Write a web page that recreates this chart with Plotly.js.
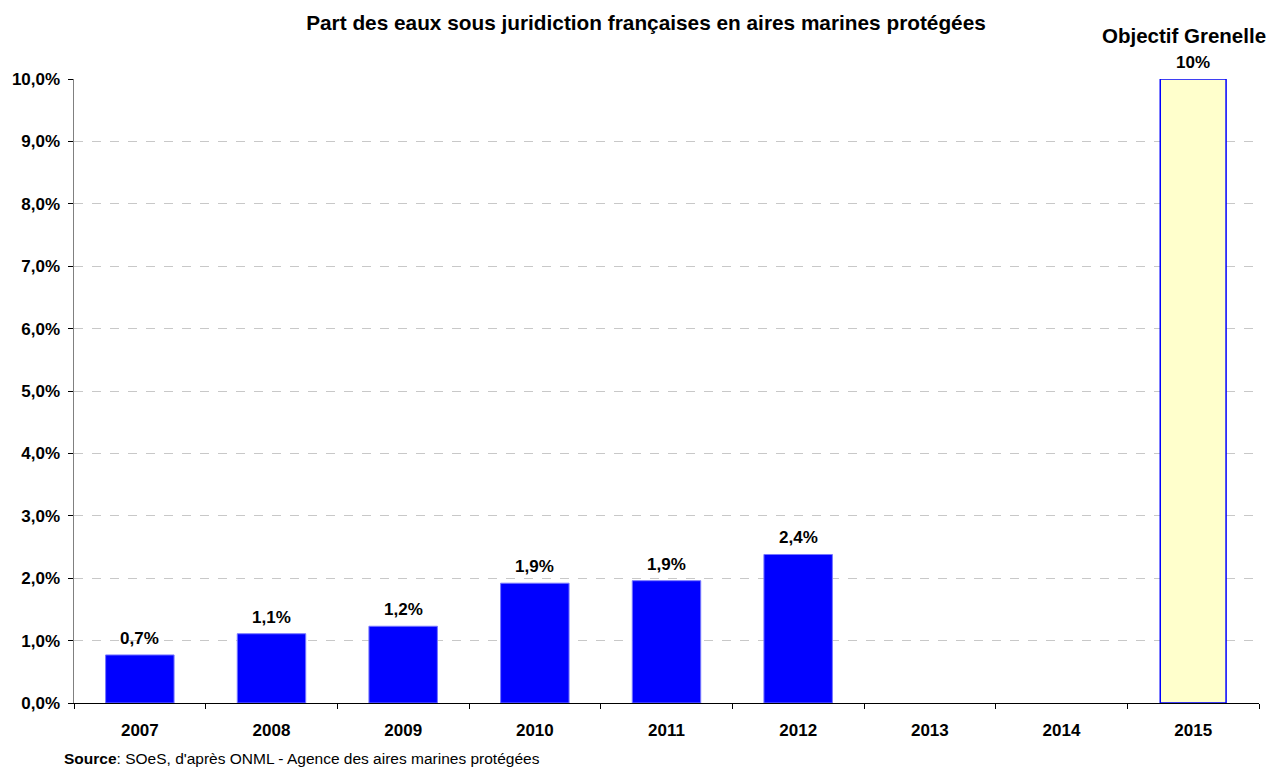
<!DOCTYPE html>
<html><head><meta charset="utf-8">
<script src="https://cdn.plot.ly/plotly-3.0.1.min.js"></script>
<style>html,body{margin:0;padding:0;background:#fff}#chart{width:1272px;height:767px}</style>
</head><body><div id="chart"></div>
<script>
const years = ['2007','2008','2009','2010','2011','2012','2013','2014','2015'];
const obsYears = ['2007','2008','2009','2010','2011','2012'];
const obsValues = [0.0077, 0.0111, 0.0123, 0.0192, 0.0196, 0.0238];
const obsLabels = ['0,7%','1,1%','1,2%','1,9%','1,9%','2,4%'];
const targetYears = ['2015'];
const targetValues = [0.10];
const targetLabels = ['10%'];
const targetTitle = 'Objectif Grenelle';
const yTicks = [0,0.01,0.02,0.03,0.04,0.05,0.06,0.07,0.08,0.09,0.10];

const F = 'Arial, "Liberation Sans", sans-serif';
const idx = c => years.indexOf(c);
const traces = [
  {type:'bar', x:obsYears.map(idx), y:obsValues, width:0.52,
   marker:{color:'#0000FF', line:{color:'#7777ff', width:1}}, hoverinfo:'skip'},
  {type:'bar', x:targetYears.map(idx), y:targetValues, width:0.5,
   marker:{color:'#FFFFCC', line:{color:'#0000FF', width:1.5}}, hoverinfo:'skip'}
];
const ann = [];
obsYears.forEach((c,i)=>ann.push({x:idx(c), y:obsValues[i], xref:'x', yref:'y', text:obsLabels[i],
  showarrow:false, yanchor:'bottom', yshift:5, font:{family:F, size:17, color:'#000', weight:'bold'}}));
targetYears.forEach((c,i)=>{
  ann.push({x:idx(c), y:targetValues[i], xref:'x', yref:'y', text:targetLabels[i],
    showarrow:false, yanchor:'bottom', yshift:5, font:{family:F, size:17, color:'#000', weight:'bold'}});
  ann.push({x:idx(c), y:targetValues[i], xref:'x', yref:'y', text:targetTitle, showarrow:false,
    yanchor:'middle', yshift:44, xshift:-9, font:{family:F, size:20.5, color:'#000', weight:'bold'}});
});
ann.push({x:(62-74)/(1259-74), y:-(758-703)/(703-79), xref:'paper', yref:'paper', yanchor:'middle', xanchor:'left',
  text:'<b>Source</b>: SOeS, d\'après ONML - Agence des aires marines protégées', showarrow:false,
  font:{family:F, size:15.5, color:'#000'}});

const layout = {
  width:1272, height:767,
  margin:{l:74, r:13, t:79, b:64},
  paper_bgcolor:'#fff', plot_bgcolor:'#fff',
  barmode:'overlay', showlegend:false,
  title:{text:'Part des eaux sous juridiction françaises en aires marines protégées',
    x:646/1272, xanchor:'center', y:1-23/767, yanchor:'middle', font:{family:F, size:20.8, color:'#000', weight:'bold'}},
  separators:', ',
  font:{family:F, color:'#000'},
  xaxis:{type:'linear', range:[-0.5,8.5], tickvals:years.map((c,i)=>i), ticktext:years,
    showline:true, linecolor:'#000', linewidth:1, ticks:'', showgrid:false, zeroline:false, ticklabelstandoff:12,
    tickfont:{family:F, size:17, color:'#000', weight:'bold'}},
  xaxis2:{overlaying:'x', range:[-0.5,8.5], tickvals:years.map((c,i)=>i+0.5).concat([-0.5]), showticklabels:false,
    ticks:'outside', ticklen:5, tickcolor:'#000', showgrid:false, zeroline:false, showline:false, anchor:'y'},
  yaxis:{range:[0,0.10], tickvals:yTicks, tickformat:'.1%', showline:true, linecolor:'#808080', linewidth:1.5,
    ticks:'outside', ticklen:5, tickcolor:'#000', showgrid:true, gridcolor:'#c8c8c8', griddash:'dash', gridwidth:1,
    zeroline:false, ticklabelstandoff:4, tickfont:{family:F, size:17, color:'#000', weight:'bold'}},
  annotations:ann
};
traces.push({type:'scatter', x:[0], y:[0], xaxis:'x2', mode:'markers', marker:{opacity:0}, hoverinfo:'skip'});
Plotly.newPlot('chart', traces, layout, {staticPlot:true, displayModeBar:false});
</script></body></html>
